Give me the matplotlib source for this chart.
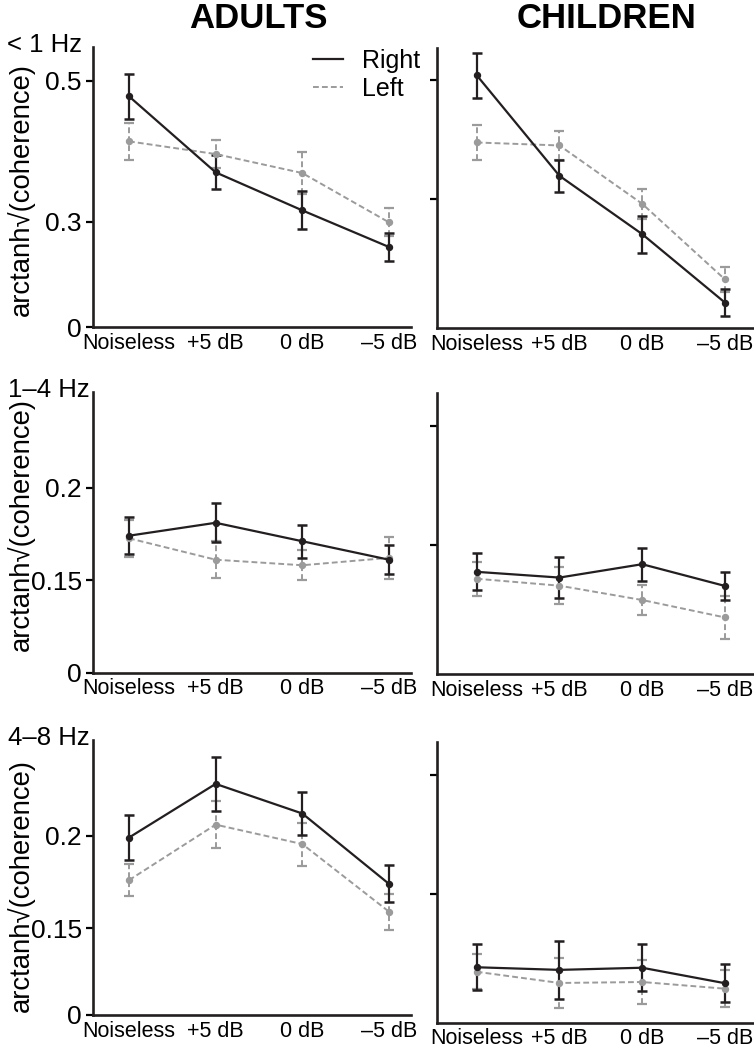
import matplotlib
matplotlib.use('Agg')
import matplotlib.pyplot as plt
from matplotlib.lines import Line2D

plt.rcParams['font.family'] = ['Liberation Sans', 'DejaVu Sans']

conditions = ['Noiseless', '+5 dB', '0 dB', '–5 dB']
bands = ['< 1 Hz', '1–4 Hz', '4–8 Hz']
groups = ['ADULTS', 'CHILDREN']

# mean arctanh sqrt(coherence), one row per band
adults_right = [[0.478, 0.370, 0.316, 0.264],
                [0.174, 0.181, 0.171, 0.161],
                [0.199, 0.228, 0.212, 0.174]]
adults_right_err = [[0.032, 0.024, 0.027, 0.020],
                    [0.010, 0.0105, 0.009, 0.008],
                    [0.012, 0.0147, 0.0117, 0.010]]
adults_left = [[0.414, 0.396, 0.369, 0.299],
               [0.1726, 0.161, 0.158, 0.162],
               [0.176, 0.206, 0.1955, 0.159]]
adults_left_err = [[0.026, 0.020, 0.030, 0.020],
                   [0.010, 0.0099, 0.0082, 0.0115],
                   [0.0088, 0.0127, 0.0116, 0.0097]]
children_right = [[0.508, 0.339, 0.241, 0.126],
                  [0.1388, 0.1364, 0.142, 0.1329],
                  [0.1192, 0.1181, 0.119, 0.1125]]
children_right_err = [[0.038, 0.027, 0.031, 0.022],
                      [0.0078, 0.0085, 0.0069, 0.006],
                      [0.0096, 0.0123, 0.0098, 0.0081]]
children_left = [[0.395, 0.390, 0.292, 0.165],
                 [0.1359, 0.133, 0.127, 0.1197],
                 [0.1173, 0.1126, 0.113, 0.1102]]
children_left_err = [[0.030, 0.025, 0.025, 0.021],
                     [0.0072, 0.0077, 0.0063, 0.0089],
                     [0.0073, 0.0105, 0.0094, 0.0079]]

tick_vals = [(0.3, 0.5), (0.15, 0.2), (0.15, 0.2)]
tick_labels = [('0.3', '0.5'), ('0.15', '0.2'), ('0.15', '0.2')]

# axis ranges (the bottom of the adult panels is labelled "0": broken axis)
ylims_adults = [(0.1504, 0.548), (0.0998, 0.252), (0.1032, 0.2517)]
ylims_children = [(0.0832, 0.5538), (0.096, 0.2136), (0.0959, 0.214)]

W, H = 754, 1053
BLACK = '#231f20'
GRAY = '#9b9b9b'
DASH = (0, (3, 1.6))

fig = plt.figure(figsize=(W / 100, H / 100), dpi=100)


def px_axes(x0, top, w, bottom):
    return fig.add_axes([x0 / W, 1 - bottom / H, w / W, (bottom - top) / H])


def draw(ax, right, right_err, left, left_err):
    xs = range(len(conditions))
    eb = ax.errorbar(xs, left, yerr=left_err, color=GRAY, lw=1.4, ls=DASH,
                     marker='o', ms=4.3, capsize=3.6, capthick=1.6, elinewidth=1.4)
    eb[2][0].set_linestyle(DASH)
    ax.errorbar(xs, right, yerr=right_err, color=BLACK, lw=1.6, marker='o',
                ms=4.3, capsize=3.6, capthick=1.8, elinewidth=1.6)
    for s in ['top', 'right']:
        ax.spines[s].set_visible(False)
    for s in ['left', 'bottom']:
        ax.spines[s].set_linewidth(1.9)
        ax.spines[s].set_color(BLACK)
    ax.set_xticks(list(xs))
    ax.set_xticklabels(conditions, fontsize=15.5)
    ax.tick_params(axis='x', length=0, pad=4)
    ax.tick_params(axis='y', length=5, width=1.6, pad=3, labelsize=19)


left_tops = [47, 391.7, 740]
left_bots = [327, 672.7, 1015]
right_tops = [48, 393.3, 741.7]
right_bots = [328, 674, 1022.7]
ylab_centers = [189, 524, 885]

for i in range(3):
    ax = px_axes(93, left_tops[i], 318, left_bots[i])
    draw(ax, adults_right[i], adults_right_err[i], adults_left[i], adults_left_err[i])
    ax.set_xlim(-0.415, 3.254)
    ax.set_ylim(*ylims_adults[i])
    ax.set_yticks([ylims_adults[i][0], tick_vals[i][0], tick_vals[i][1]])
    ax.set_yticklabels(['0', tick_labels[i][0], tick_labels[i][1]])
    if i == 0:
        handles = [Line2D([], [], color=BLACK, lw=1.6),
                   Line2D([], [], color=GRAY, lw=1.4, ls=DASH)]
        ax.legend(handles, ['Right', 'Left'], loc='upper left',
                  bbox_to_anchor=(313 / W, 1 - 49 / H),
                  bbox_transform=fig.transFigure, frameon=False,
                  fontsize=18, borderpad=0, borderaxespad=0,
                  handlelength=1.2, handletextpad=0.75, labelspacing=0.16)
    fig.text(21 / W, 1 - ylab_centers[i] / H, 'arctanh√(coherence)',
             rotation=90, ha='center', va='center', fontsize=19.8)
    fig.text((82 if i == 0 else 90) / W, 1 - (left_tops[i] - 2) / H, bands[i],
             ha='right', va='center', fontsize=18.5)

    ax = px_axes(437, right_tops[i], 316, right_bots[i])
    draw(ax, children_right[i], children_right_err[i], children_left[i], children_left_err[i])
    ax.set_xlim(-0.48, 3.34)
    ax.set_ylim(*ylims_children[i])
    ax.set_yticks(list(tick_vals[i]))
    ax.set_yticklabels([])

fig.text(258 / W, 1 - 18 / H, groups[0], ha='center', va='center',
         fontsize=25, fontweight='bold')
fig.text(607 / W, 1 - 18 / H, groups[1], ha='center', va='center',
         fontsize=25, fontweight='bold')

fig.savefig('out.png', dpi=100)
